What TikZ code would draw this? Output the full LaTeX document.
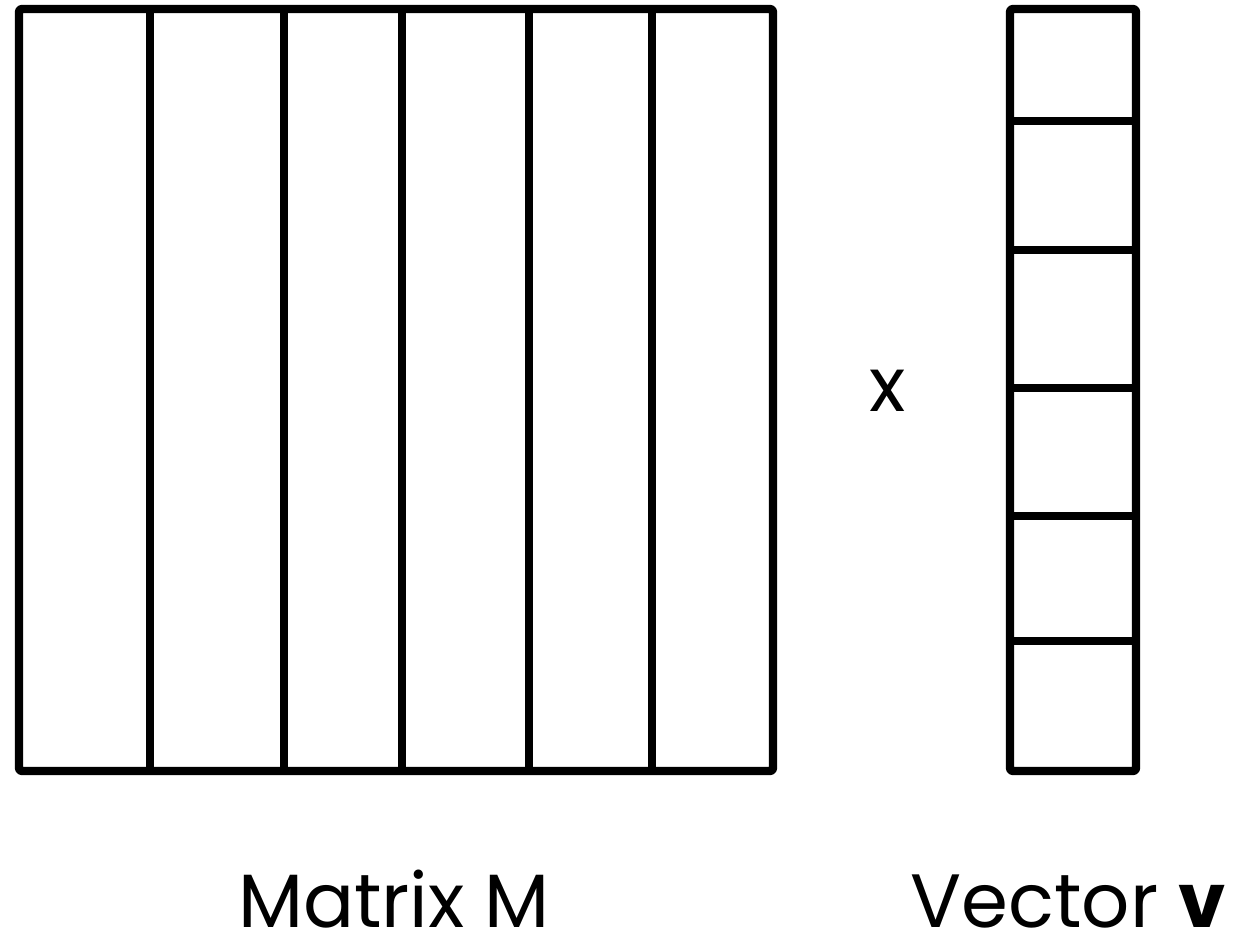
\documentclass[tikz,border=0pt]{standalone}
\usepackage{fontspec}
\setmainfont{Poppins}
\usetikzlibrary{positioning}

\begin{document}
\begin{tikzpicture}[
    x=0.02cm, y=-0.02cm,
    cell/.style={line width=4.7pt, rounded corners=1.5pt, line join=round},
    sep/.style={line width=4.7pt},
    label/.style={font=\fontsize{43}{48}\selectfont, anchor=base, inner sep=0pt}
]
\useasboundingbox (0,0) rectangle (1236,939);

% matrix M, split into columns
\draw[cell] (19,9) rectangle (773,771);
\foreach \cx in {150,284,402,529,652}
    \draw[sep] (\cx,9) -- (\cx,771);

% vector v, split into entries
\draw[cell] (1010,9) rectangle (1136,771);
\foreach \cy in {121,250,388,516,641}
    \draw[sep] (1010,\cy) -- (1133,\cy);

\node[label] (times) at (888,411) {x};
\node[label] (mlabel) at (394,927) {Matrix M};
\node[label] (vlabel) at (1068,927) {Vector \textbf{v}};
\end{tikzpicture}
\end{document}
